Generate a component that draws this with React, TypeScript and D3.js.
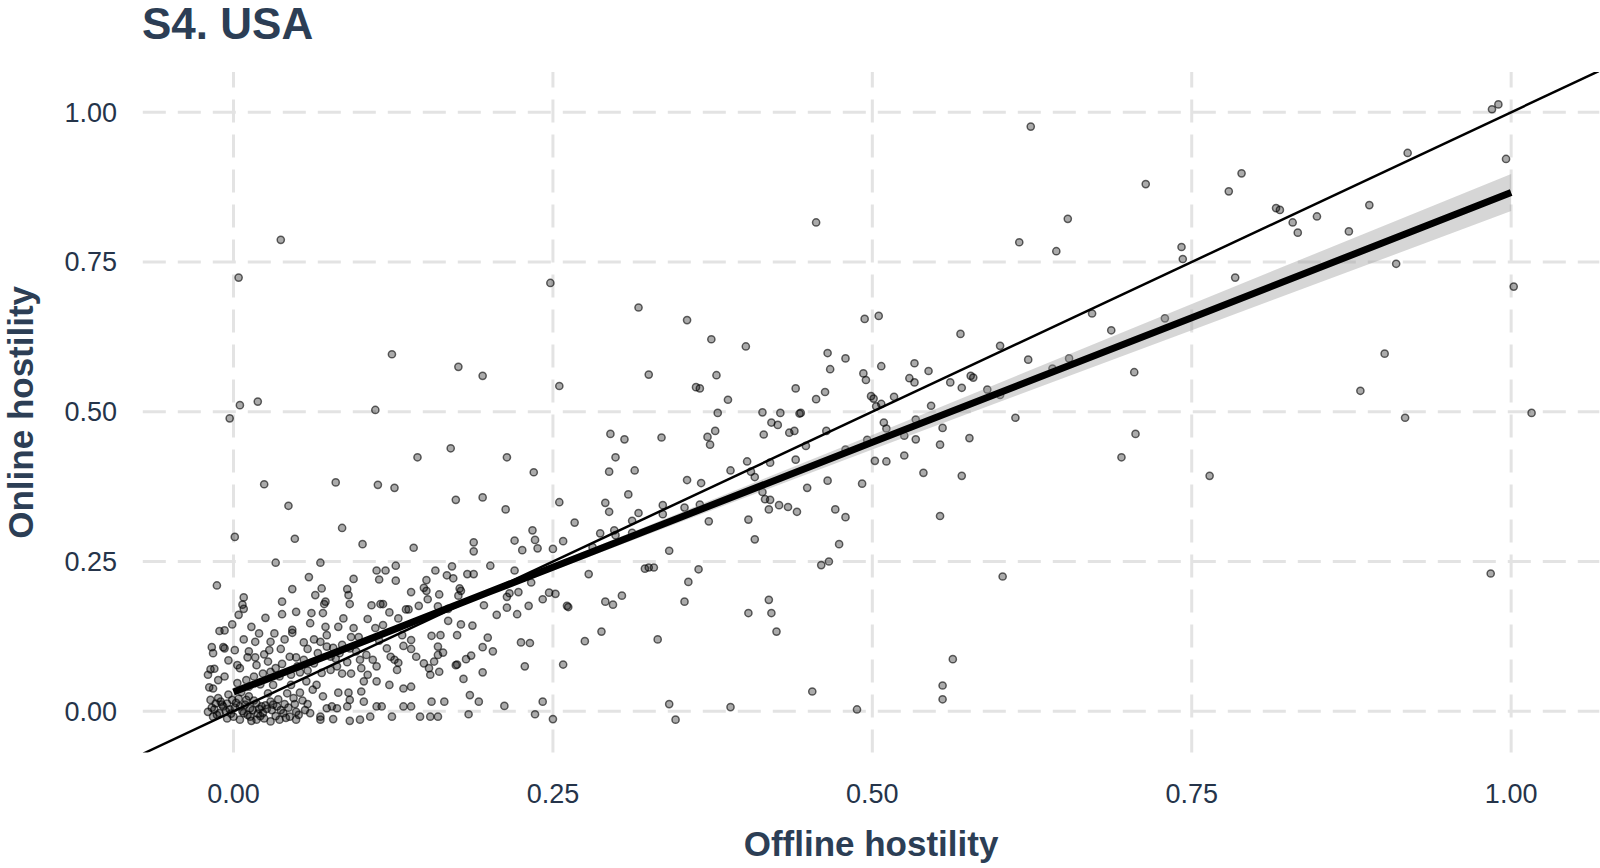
import { useEffect } from "react";
import * as d3 from "d3";

// jittered points, [offline, online]
const clusterPoints: [number, number][] = [
  [0.033, 0.248], [0.068, 0.248], [0.127, 0.243], [-0.013, 0.21], [0.059, 0.224], [0.112, 0.235], [0.119, 0.235],
  [0.094, 0.221], [0.127, 0.218], [0.158, 0.235], [0.151, 0.219], [0.167, 0.227], [0.046, 0.204], [0.064, 0.194],
  [0.069, 0.205], [0.089, 0.204], [0.09, 0.194], [0.114, 0.22], [0.139, 0.199], [0.149, 0.206], [0.151, 0.201],
  [0.161, 0.195], [0.152, 0.187], [0.008, 0.19], [0.007, 0.178], [0.008, 0.171], [0.004, 0.161], [-0.001, 0.145],
  [0.025, 0.156], [0.038, 0.183], [0.038, 0.162], [0.049, 0.166], [0.06, 0.147], [0.061, 0.164], [0.071, 0.179],
  [0.072, 0.183], [0.07, 0.164], [0.072, 0.141], [0.091, 0.179], [0.086, 0.155], [0.094, 0.139], [0.082, 0.141],
  [0.073, 0.127], [0.108, 0.177], [0.115, 0.179], [0.117, 0.179], [0.105, 0.154], [0.111, 0.139], [0.122, 0.165],
  [0.129, 0.155], [0.135, 0.17], [0.137, 0.17], [0.145, 0.176], [0.16, 0.175], [0.168, 0.171], [0.117, 0.144],
  [0.132, 0.127], [0.139, 0.119], [0.155, 0.126], [0.162, 0.127], [0.168, 0.151], [0.16, 0.108], [0.164, 0.098],
  [-0.011, 0.134], [-0.007, 0.135], [0.008, 0.12], [0.014, 0.141], [0.017, 0.116], [0.029, 0.116], [0.046, 0.136],
  [0.046, 0.131], [0.037, 0.104], [0.028, 0.102], [-0.017, 0.107], [-0.016, 0.097], [-0.008, 0.107], [-0.007, 0.105],
  [0.001, 0.102], [0.011, 0.09], [0.017, 0.09], [0.018, 0.077], [0.003, 0.077], [0.005, 0.072], [-0.02, 0.061],
  [-0.018, 0.07], [-0.015, 0.071], [-0.007, 0.058], [-0.019, 0.04], [-0.016, 0.038], [0.044, 0.091], [0.049, 0.09],
  [0.058, 0.104], [0.055, 0.086], [0.063, 0.12], [0.055, 0.115], [0.068, 0.116], [0.073, 0.108], [0.078, 0.106],
  [0.076, 0.091], [0.083, 0.097], [0.085, 0.111], [0.092, 0.124], [0.098, 0.124], [0.096, 0.1], [0.099, 0.086],
  [0.089, 0.082], [0.081, 0.075], [0.076, 0.069], [0.085, 0.063], [0.092, 0.063], [0.1, 0.072], [0.105, 0.061],
  [0.109, 0.086], [0.112, 0.075], [0.12, 0.105], [0.123, 0.091], [0.126, 0.086], [0.129, 0.081], [0.128, 0.069],
  [0.133, 0.109], [0.139, 0.104], [0.143, 0.091], [0.149, 0.08], [0.153, 0.072], [0.157, 0.083], [0.16, 0.094],
  [0.154, 0.061], [0.161, 0.066], [0.139, 0.041], [0.133, 0.038], [0.122, 0.044], [0.112, 0.05], [0.102, 0.05],
  [0.1, 0.033], [0.09, 0.031], [0.082, 0.031], [0.077, 0.008], [0.07, 0.025], [0.065, 0.044], [0.057, 0.05],
  [0.052, 0.065], [0.045, 0.061], [0.045, 0.044], [0.036, 0.058], [0.031, 0.044], [0.023, 0.063], [0.016, 0.058],
  [0.012, 0.041], [0.003, 0.047],
  [-0.018, 0.019], [-0.014, 0.013], [-0.012, 0.022], [-0.008, 0.008], [-0.005, 0.013], [-0.001, 0.019], [0.005, 0.008],
  [0.01, 0.019], [0.013, 0.005], [0.018, 0.013], [0.023, -0.003], [0.029, 0.016], [0.034, 0.008], [0.039, -0.003],
  [0.044, -0.009], [0.049, -0.001], [0.056, 0.002], [0.06, -0.003], [0.068, -0.009], [0.073, 0.005], [0.081, 0.005],
  [0.089, 0.008], [0.091, 0.019], [0.102, 0.016], [0.107, -0.009], [0.112, 0.008], [0.116, 0.008], [0.124, -0.009],
  [0.133, 0.008], [0.139, 0.008], [0.146, -0.009], [0.154, -0.009], [0.155, 0.016], [0.16, -0.009], [0.165, 0.016],
  [-0.02, -0.001], [-0.016, -0.009], [-0.011, -0.003], [-0.005, -0.012], [0.0, -0.009], [0.005, -0.014], [0.008, -0.003],
  [0.013, -0.009], [0.018, -0.014], [0.029, -0.017], [0.036, -0.014], [0.049, -0.014], [0.068, -0.014], [0.078, -0.013],
  [0.091, -0.016], [0.099, -0.014],
  [-0.015, 0.003], [-0.01, 0.016], [-0.003, 0.003], [0.002, 0.014], [0.007, 0.0], [0.012, 0.025], [0.02, 0.004],
  [0.025, 0.01], [0.03, 0.002], [0.014, -0.016], [0.021, -0.008], [0.04, 0.012], [0.047, 0.022], [0.052, 0.031],
  [0.058, 0.012], [0.062, 0.036], [0.042, 0.03], [0.027, 0.03], [0.006, 0.032], [-0.004, 0.028], [0.033, 0.072],
  [0.027, 0.083], [0.063, 0.08], [0.069, 0.064], [0.04, 0.12], [0.02, 0.13],
];

// the darkest overlap near the origin, where several points sit on top of each other
const originOverlap: [number, number][] = [
  [-0.017, 0.006], [-0.013, -0.006], [-0.009, 0.011], [-0.006, 0.0], [-0.002, -0.004], [0.001, 0.006], [0.004, 0.021],
  [0.009, 0.011], [0.011, -0.006], [0.015, 0.002], [0.016, 0.018], [0.019, -0.004], [0.022, 0.008], [0.024, -0.012],
  [0.026, 0.004], [0.031, 0.011], [0.033, -0.008], [0.035, 0.02], [0.037, 0.002], [0.041, -0.011], [0.043, 0.006],
  [0.048, 0.012], [0.051, -0.006], [0.054, 0.018], [0.01, 0.052], [0.021, 0.045], [0.029, 0.066], [0.038, 0.079],
  [0.05, 0.075], [0.058, 0.068], [0.066, 0.097], [0.08, 0.088], [0.091, 0.105], [0.104, 0.094], [0.114, 0.118],
  [-0.012, 0.052], [-0.004, 0.085], [0.012, 0.1], [0.024, 0.095], [0.032, 0.13],
];

const lowerMidPoints: [number, number][] = [
  [0.171, 0.242], [0.172, 0.222], [0.183, 0.229], [0.188, 0.229], [0.201, 0.243], [0.22, 0.235], [0.233, 0.215],
  [0.177, 0.205], [0.178, 0.201], [0.176, 0.193], [0.196, 0.177], [0.206, 0.161], [0.214, 0.191], [0.216, 0.197],
  [0.223, 0.199], [0.214, 0.173], [0.222, 0.162], [0.231, 0.176], [0.242, 0.187], [0.247, 0.198], [0.252, 0.196],
  [0.261, 0.176], [0.262, 0.174], [0.278, 0.229], [0.291, 0.183], [0.297, 0.178], [0.304, 0.193], [0.322, 0.238],
  [0.325, 0.24], [0.329, 0.24], [0.364, 0.237], [0.356, 0.216], [0.353, 0.183], [0.288, 0.133], [0.275, 0.117],
  [0.332, 0.12], [0.258, 0.078], [0.178, 0.145], [0.187, 0.143], [0.175, 0.127], [0.199, 0.123], [0.195, 0.107],
  [0.203, 0.1], [0.225, 0.115], [0.232, 0.114], [0.186, 0.093], [0.182, 0.087], [0.174, 0.077], [0.175, 0.078],
  [0.195, 0.065], [0.18, 0.054], [0.228, 0.075], [0.185, 0.027], [0.192, 0.016], [0.212, 0.009], [0.242, 0.016],
  [0.184, -0.005], [0.236, -0.005], [0.25, -0.013], [0.341, 0.012], [0.346, -0.014],
  [0.389, 0.007], [0.403, 0.164], [0.419, 0.186], [0.421, 0.164], [0.425, 0.133],
];

const upperLeftPoints: [number, number][] = [
  [0.005, 0.511], [0.019, 0.517], [-0.003, 0.489], [0.111, 0.503], [0.144, 0.424], [0.17, 0.439], [0.024, 0.379],
  [0.08, 0.382], [0.113, 0.378], [0.126, 0.373], [0.174, 0.353], [0.195, 0.357], [0.043, 0.343], [0.085, 0.306],
  [0.001, 0.291], [0.048, 0.288], [0.101, 0.279], [0.141, 0.273], [0.188, 0.282], [0.188, 0.267],
  [0.037, 0.787], [0.004, 0.724], [0.248, 0.715], [0.124, 0.596], [0.176, 0.575], [0.195, 0.56],
];

const centrePoints: [number, number][] = [
  [0.317, 0.674], [0.355, 0.653], [0.374, 0.621], [0.401, 0.609], [0.255, 0.543], [0.325, 0.562], [0.378, 0.561],
  [0.362, 0.541], [0.365, 0.539], [0.387, 0.52], [0.44, 0.539], [0.379, 0.498], [0.414, 0.499], [0.428, 0.498],
  [0.443, 0.497], [0.421, 0.482], [0.426, 0.478], [0.435, 0.465], [0.439, 0.468], [0.415, 0.462], [0.295, 0.463],
  [0.306, 0.454], [0.335, 0.457], [0.371, 0.458], [0.377, 0.468], [0.373, 0.445], [0.214, 0.424], [0.235, 0.399],
  [0.299, 0.424], [0.294, 0.4], [0.314, 0.402], [0.355, 0.386], [0.366, 0.381], [0.389, 0.402], [0.402, 0.417],
  [0.42, 0.415], [0.405, 0.4], [0.408, 0.391], [0.44, 0.42], [0.309, 0.362], [0.213, 0.337], [0.255, 0.349],
  [0.291, 0.348], [0.294, 0.333], [0.317, 0.331], [0.336, 0.344], [0.336, 0.329], [0.353, 0.34], [0.365, 0.345],
  [0.372, 0.317], [0.414, 0.366], [0.416, 0.354], [0.42, 0.353], [0.419, 0.337], [0.427, 0.344], [0.434, 0.341],
  [0.441, 0.333], [0.403, 0.32], [0.408, 0.287], [0.267, 0.315], [0.312, 0.318], [0.287, 0.297], [0.298, 0.302],
  [0.299, 0.294], [0.312, 0.298], [0.234, 0.302], [0.22, 0.285], [0.236, 0.286], [0.226, 0.269], [0.238, 0.272],
  [0.25, 0.271], [0.258, 0.284], [0.281, 0.274], [0.341, 0.268],
];

const rightMidPoints: [number, number][] = [
  [0.494, 0.655], [0.505, 0.66], [0.569, 0.63], [0.6, 0.61], [0.672, 0.664], [0.687, 0.636], [0.465, 0.598],
  [0.479, 0.589], [0.467, 0.571], [0.493, 0.564], [0.495, 0.553], [0.507, 0.576], [0.533, 0.581], [0.544, 0.568],
  [0.529, 0.556], [0.533, 0.549], [0.561, 0.549], [0.57, 0.54], [0.577, 0.56], [0.579, 0.557], [0.59, 0.537],
  [0.622, 0.587], [0.654, 0.589], [0.641, 0.572], [0.705, 0.566], [0.456, 0.521], [0.463, 0.533], [0.499, 0.526],
  [0.501, 0.522], [0.503, 0.509], [0.507, 0.513], [0.517, 0.525], [0.546, 0.51], [0.6, 0.528], [0.612, 0.49],
  [0.444, 0.498], [0.464, 0.468], [0.448, 0.443], [0.509, 0.482], [0.511, 0.472], [0.496, 0.453], [0.479, 0.437],
  [0.525, 0.46], [0.534, 0.487], [0.534, 0.454], [0.555, 0.473], [0.553, 0.445], [0.576, 0.456], [0.706, 0.463],
  [0.695, 0.424], [0.502, 0.418], [0.511, 0.417], [0.525, 0.427], [0.54, 0.398], [0.57, 0.393], [0.465, 0.385],
  [0.492, 0.38], [0.449, 0.373], [0.471, 0.337], [0.479, 0.324], [0.553, 0.326], [0.474, 0.279], [0.46, 0.244],
  [0.466, 0.25], [0.602, 0.225], [0.563, 0.087], [0.555, 0.043], [0.555, 0.02], [0.453, 0.033], [0.488, 0.003],
  [0.624, 0.976], [0.714, 0.88], [0.456, 0.816], [0.653, 0.822], [0.615, 0.783], [0.644, 0.768],
];

const farRightPoints: [number, number][] = [
  [0.985, 1.005], [0.99, 1.013], [0.996, 0.922], [0.919, 0.932], [0.789, 0.898], [0.779, 0.868], [0.816, 0.84],
  [0.819, 0.837], [0.829, 0.816], [0.833, 0.799], [0.848, 0.826], [0.873, 0.801], [0.889, 0.845], [0.742, 0.775],
  [0.743, 0.755], [0.784, 0.724], [0.91, 0.747], [0.729, 0.656], [1.002, 0.709], [0.901, 0.597], [0.882, 0.535],
  [0.917, 0.49], [1.016, 0.498], [0.764, 0.393], [0.984, 0.23],
];

// linear fit with its 95% band, read at a few x positions
const fitX = [0, 0.1, 0.2, 0.35, 0.5, 0.75, 1];
const fitY = [0.032, 0.115, 0.199, 0.324, 0.449, 0.657, 0.866];
const fitLow = [0.024, 0.111, 0.194, 0.316, 0.437, 0.636, 0.835];
const fitHigh = [0.04, 0.12, 0.203, 0.332, 0.461, 0.68, 0.897];

const tickValues = [0, 0.25, 0.5, 0.75, 1];
const tickLabels = ["0.00", "0.25", "0.50", "0.75", "1.00"];

const width = 1600;
const height = 868;

const App = () => {
  useEffect(() => {
    document.body.style.margin = "0";
  }, []);

  // scales: 0 sits at 233.5px, 1 at 1511.2px; y 0 at 711.3px, 1 at 112.2px
  const x = d3.scaleLinear().domain([-0.071, 1.069]).range([142.8, 1599.3]);
  const y = d3.scaleLinear().domain([-0.069, 1.067]).range([752.6, 72.1]);
  const [left, right] = x.range();
  const [bottom, top] = y.range();

  const allPoints = [
    ...clusterPoints,
    ...originOverlap,
    ...lowerMidPoints,
    ...upperLeftPoints,
    ...centrePoints,
    ...rightMidPoints,
    ...farRightPoints,
  ];

  const fit = fitX.map((v, i) => ({ x: v, y: fitY[i], lo: fitLow[i], hi: fitHigh[i] }));

  const band = d3
    .area<any>()
    .x((d) => x(d.x))
    .y0((d) => y(d.lo))
    .y1((d) => y(d.hi));

  const fitLine = d3
    .line<any>()
    .x((d) => x(d.x))
    .y((d) => y(d.y));

  const font = "'Liberation Sans', Arial, sans-serif";
  const titleColor = "#2c3e55";
  const tickColor = "#25344a";

  return (
    <svg width={width} height={height} style={{ display: "block" }} fontFamily={font}>
      <defs>
        <clipPath id="panel">
          <rect x={left} y={top} width={right - left} height={bottom - top} />
        </clipPath>
      </defs>

      {/* grid */}
      <g stroke="#e3e3e3" strokeWidth={3} strokeDasharray="23 12">
        {tickValues.map((t) => (
          <line key={"h" + t} x1={left} x2={right} y1={y(t)} y2={y(t)} />
        ))}
        {tickValues.map((t) => (
          <line key={"v" + t} x1={x(t)} x2={x(t)} y1={bottom} y2={top} />
        ))}
      </g>

      <g clipPath="url(#panel)">
        {/* points */}
        <g fill="#000" fillOpacity={0.33} stroke="#000" strokeOpacity={0.6} strokeWidth={1.5}>
          {allPoints.map((p, i) => (
            <circle key={i} cx={x(p[0])} cy={y(p[1])} r={3.6} />
          ))}
        </g>

        {/* confidence band and fit */}
        <path d={band(fit) ?? ""} fill="#999" fillOpacity={0.4} />
        <path d={fitLine(fit) ?? ""} fill="none" stroke="#000" strokeWidth={7} />

        {/* 45 degree reference line */}
        <line
          x1={x(-0.071)}
          y1={y(-0.071)}
          x2={x(1.069)}
          y2={y(1.069)}
          stroke="#000"
          strokeWidth={2.5}
        />
      </g>

      {/* y tick labels */}
      <g fontSize={27} fill={tickColor} textAnchor="end">
        {tickValues.map((t, i) => (
          <text key={t} x={117} y={y(t)} dy="0.35em">
            {tickLabels[i]}
          </text>
        ))}
      </g>

      {/* x tick labels */}
      <g fontSize={27} fill={tickColor} textAnchor="middle">
        {tickValues.map((t, i) => (
          <text key={t} x={x(t)} y={803}>
            {tickLabels[i]}
          </text>
        ))}
      </g>

      <text x={(left + right) / 2} y={856} textAnchor="middle" fontSize={35} fontWeight="bold" fill={titleColor}>
        Offline hostility
      </text>
      <text
        transform={`translate(33,${(top + bottom) / 2}) rotate(-90)`}
        textAnchor="middle"
        fontSize={35}
        fontWeight="bold"
        fill={titleColor}
      >
        Online hostility
      </text>

      <text x={142} y={39} fontSize={44} fontWeight="bold" fill={titleColor}>
        S4. USA
      </text>
    </svg>
  );
};

export default App;
